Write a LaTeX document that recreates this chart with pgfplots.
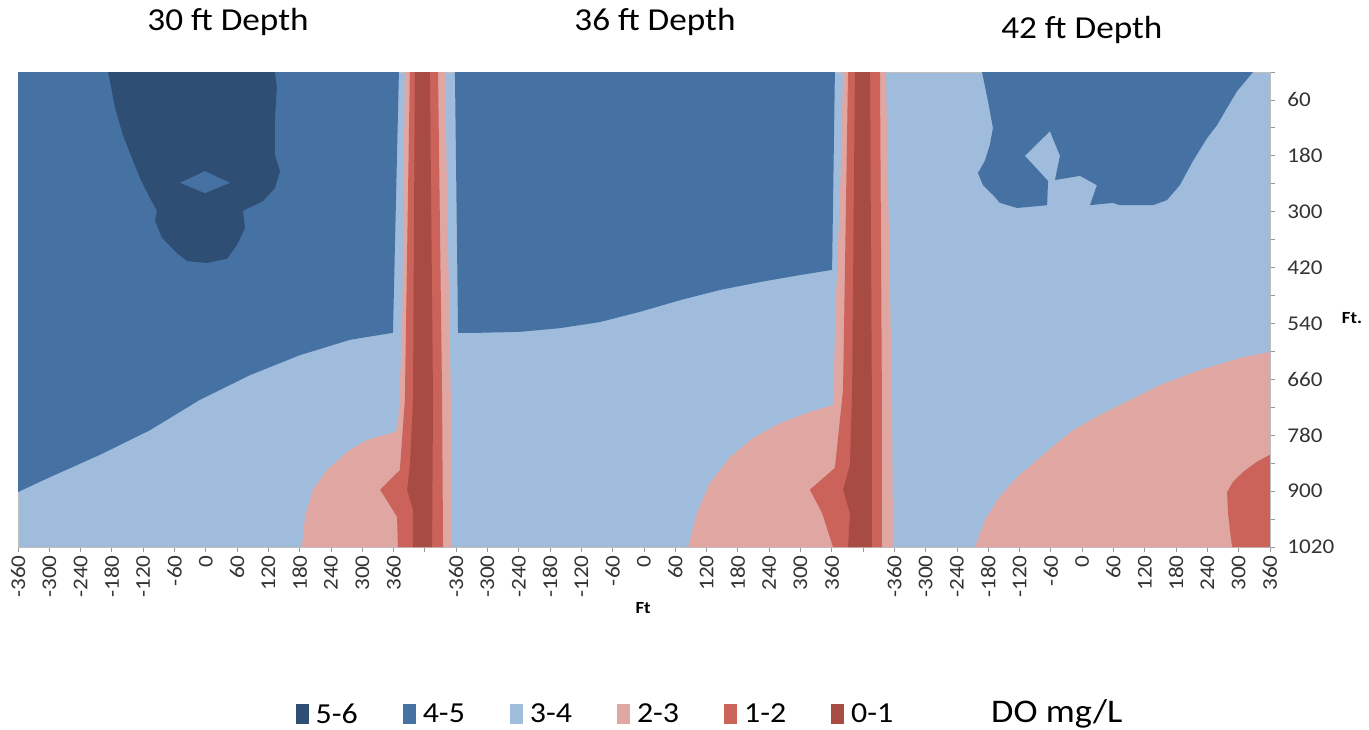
\documentclass[border=0pt]{standalone}
\usepackage{pgfplots}
\pgfplotsset{compat=1.18}
\usepackage{fontspec}
\setmainfont{Carlito}[FakeStretch=1.1]
\definecolor{c56}{HTML}{2E4E73}
\definecolor{c45}{HTML}{4672A3}
\definecolor{c34}{HTML}{A0BCDC}
\definecolor{c23}{HTML}{DFA6A2}
\definecolor{c12}{HTML}{CB635A}
\definecolor{c01}{HTML}{A84B43}
\begin{document}
\begin{tikzpicture}
\begin{axis}[
  scale only axis, width=1252bp, height=475bp,
  xmin=0, xmax=40, ymin=0, ymax=1020, y dir=reverse,
  axis background/.style={fill=c34},
  axis line style={draw=black!25, line width=0.8bp},
  xtick={0,...,40},
  xticklabels={-360,-300,-240,-180,-120,-60,0,60,120,180,240,300,360,{},
               -360,-300,-240,-180,-120,-60,0,60,120,180,240,300,360,{},
               -360,-300,-240,-180,-120,-60,0,60,120,180,240,300,360},
  xticklabel style={rotate=90, anchor=east, font=\fontsize{21bp}{24bp}\selectfont, text=black!80},
  ytick={0,60,...,1020},
  yticklabels={{},60,{},180,{},300,{},420,{},540,{},660,{},780,{},900,{},1020},
  yticklabel style={font=\fontsize{21bp}{24bp}\selectfont, text=black!80, xshift=9bp},
  xtick pos=left, ytick pos=right, yticklabel pos=right,
  tick align=outside, major tick length=5bp,
  tick style={draw=black!40, line width=0.8bp},
  clip=false,
  legend image code/.code={\fill[#1] (0bp,-10bp) rectangle (13bp,10bp);},
  legend columns=-1,
  legend style={at={(0.4605,-0.3516)}, anchor=center, draw=none, fill=none,
    font=\fontsize{29bp}{32bp}\selectfont, nodes={inner sep=0pt},
    /tikz/every odd column/.append style={column sep=7bp},
    /tikz/every even column/.append style={column sep=45bp}},
]
% ---- panel 1: 4-5 region
\addplot[fill=c45, draw=none, forget plot] coordinates {
 (0,0) (12.17,0) (11.98,560) (10.61,575) (9.01,608) (7.41,651) (5.81,704)
 (4.22,769) (2.62,822) (1.02,870) (0,902)};
% ---- panel 1: 5-6 region
\addplot[fill=c56, draw=none, forget plot] coordinates {
 (2.88,0) (3.10,77) (3.35,135) (3.64,185) (3.90,228) (4.22,271) (4.44,298)
 (4.38,320) (4.60,356) (5.08,389) (5.40,406) (6.04,410) (6.68,401) (7.00,371)
 (7.25,335) (7.19,298) (7.83,277) (8.21,249) (8.37,213) (8.21,178) (8.21,99)
 (8.27,34) (8.21,0)};
\addplot[fill=c45, draw=none, forget plot] coordinates {
 (5.18,238) (5.97,213) (6.77,238) (5.97,260)};
% ---- panel 2: 4-5 region
\addplot[fill=c45, draw=none, forget plot] coordinates {
 (13.96,0) (26.10,0) (26.01,425) (24.98,436) (23.71,451) (22.43,468)
 (21.15,490) (19.87,515) (18.59,537) (17.32,550) (16.04,558) (14.76,560) (14.06,560)};
% ---- panel 3: 4-5 region
\addplot[fill=c45, draw=none, forget plot] coordinates {
 (30.80,0) (39.46,0) (38.95,41) (38.63,77) (38.31,114) (37.99,142) (37.54,191)
 (37.12,243) (36.71,275) (36.26,286) (35.21,286) (34.98,281) (34.25,286)
 (34.47,243) (33.93,223) (33.13,232) (33.29,180) (32.97,127) (32.17,180)
 (32.91,234) (32.88,286) (32.56,288) (31.92,292) (31.37,281) (31.15,264)
 (30.83,243) (30.67,217) (30.89,191) (31.05,157) (31.15,120) (30.99,62)};
% ---- 2-3 regions
\addplot[fill=c23, draw=none, forget plot] coordinates {
 (12.36,0) (13.64,0) (13.83,704) (13.83,1020) (9.07,1020) (9.17,955) (9.42,897)
 (9.87,855) (10.51,816) (11.15,790) (12.04,773) (12.14,762) (12.27,560)};
\addplot[fill=c23, draw=none, forget plot] coordinates {
 (26.36,0) (27.73,0) (27.92,683) (27.96,1020) (21.41,1020) (21.69,947)
 (22.11,882) (22.75,827) (23.48,786) (24.35,754) (25.30,730) (26.04,715)
 (26.13,490) (26.26,275)};
\addplot[fill=c23, draw=none, forget plot] coordinates {
 (30.58,1020) (30.89,962) (31.37,912) (31.92,870) (32.56,833) (33.19,797)
 (33.71,769) (34.57,736) (35.53,704) (36.49,672) (37.76,640) (39.04,614)
 (40,601) (40,1020)};
% ---- 1-2 regions
\addplot[fill=c12, draw=none, forget plot] coordinates {
 (12.52,0) (13.42,0) (13.55,704) (13.58,1020) (12.14,1020) (12.11,955)
 (11.57,897) (12.20,855) (12.36,704)};
\addplot[fill=c12, draw=none, forget plot] coordinates {
 (26.52,0) (27.54,0) (27.60,683) (27.60,1020) (26.04,1020) (25.69,947)
 (25.30,897) (26.10,850) (26.36,683)};
\addplot[fill=c12, draw=none, forget plot] coordinates {
 (40,822) (39.58,837) (39.14,859) (38.82,880) (38.63,902) (38.66,947)
 (38.72,983) (38.79,1020) (40,1020)};
% ---- 0-1 regions
\addplot[fill=c01, draw=none, forget plot] coordinates {
 (12.68,0) (13.16,0) (13.26,704) (13.23,1020) (12.62,1020) (12.62,940)
 (12.43,897) (12.52,848) (12.62,704)};
\addplot[fill=c01, draw=none, forget plot] coordinates {
 (26.74,0) (27.22,0) (27.28,683) (27.28,1020) (26.52,1020) (26.58,947)
 (26.36,897) (26.58,844) (26.65,683)};
% ---- legend
\addlegendimage{fill=c56, draw=none}\addlegendentry{5-6}
\addlegendimage{fill=c45, draw=none}\addlegendentry{4-5}
\addlegendimage{fill=c34, draw=none}\addlegendentry{3-4}
\addlegendimage{fill=c23, draw=none}\addlegendentry{2-3}
\addlegendimage{fill=c12, draw=none}\addlegendentry{1-2}
\addlegendimage{fill=c01, draw=none}\addlegendentry{0-1}
% ---- texts
\node[font=\fontsize{32bp}{36bp}\selectfont] at (axis cs:6.71,-107) {30 ft Depth};
\node[font=\fontsize{32bp}{36bp}\selectfont] at (axis cs:20.35,-107) {36 ft Depth};
\node[font=\fontsize{32bp}{36bp}\selectfont] at (axis cs:33.99,-90) {42 ft Depth};
\node[font=\bfseries\fontsize{17bp}{20bp}\selectfont] at (axis cs:19.97,1151) {Ft};
\node[font=\bfseries\fontsize{17bp}{20bp}\selectfont] at (axis cs:42.62,528) {Ft.};
\node[font=\fontsize{33bp}{36bp}\selectfont] at (axis cs:33.19,1378) {DO mg/L};
\end{axis}
\pgfresetboundingbox
\path[use as bounding box] (-18bp,-183bp) rectangle (1351bp,547bp);
\end{tikzpicture}
\end{document}
